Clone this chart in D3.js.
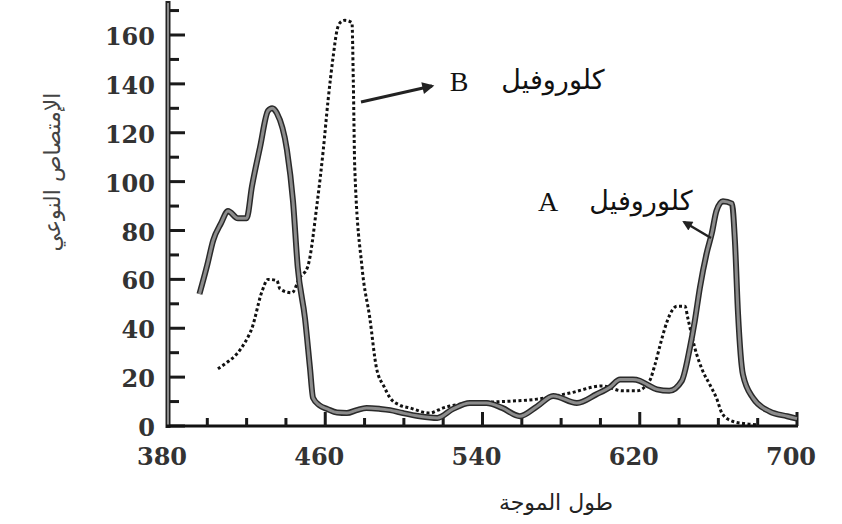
<!DOCTYPE html>
<html>
<head>
<meta charset="utf-8">
<script src="https://cdn.jsdelivr.net/npm/d3@7"></script>
<style>
  body { margin: 0; background: #fff; }
  svg { display: block; }
</style>
</head>
<body>
<div id="chart"></div>
<script>
// wavelength (nm) / absorbance
var waveA = [396, 400, 403, 407, 410.5, 415.6, 420, 422.7, 426.8, 430.9, 433, 435.4, 440.5, 443.6, 446, 449.7, 452.2, 453.8, 457, 461, 466, 471, 476, 481, 488, 493, 499.5, 508, 517, 525, 533.6, 542, 550, 559, 567.7, 576, 588, 598, 605, 610, 616.5, 620, 623.6, 628.7, 635, 641.4, 645.5, 648, 650.6, 654, 656.7, 659, 662.3, 666.9, 668.4, 670, 672.5, 677.6, 686, 695, 700];
var absA  = [54, 66, 76, 83, 88, 85, 85, 98, 114, 129, 130, 128, 113, 92, 65, 44, 24, 11.5, 8.5, 7, 5.5, 5.3, 6.5, 7.4, 7, 6.5, 5.3, 4, 3.3, 7, 9.4, 9.4, 7.4, 4, 8, 12.3, 9.4, 13, 16, 19, 19, 18.5, 17, 15, 14.4, 18.5, 32, 43, 56.6, 70.6, 79, 88, 92, 91, 76, 46, 21, 11.5, 6, 4, 3];

var waveB = [405.4, 410, 415, 419, 422.7, 427.8, 430.9, 435.4, 437, 443, 447, 451, 456, 459, 461.4, 464, 466, 467.5, 470, 473.6, 474.3, 475, 478.7, 482.7, 486, 490, 493, 498, 503, 513, 520, 533.6, 550, 567.7, 584.5, 601, 611, 618.5, 625, 627.7, 631, 634, 639, 643, 644.5, 648, 652, 655.6, 659, 662, 667, 673, 680];
var absB  = [23.4, 26, 29.5, 34, 40, 55, 60, 59.5, 56, 54.5, 60.7, 65, 92, 113, 133, 151, 162, 165, 166, 165, 140, 106, 65, 44, 24, 16, 11.5, 8.5, 7.4, 5.3, 7.4, 9.4, 10, 11, 13.5, 16.4, 14.4, 14.4, 18.5, 25, 35, 43, 49, 49, 44, 32, 22.6, 17, 11.5, 5, 2, 1, 0.5];

var yTicks = [0, 20, 40, 60, 80, 100, 120, 140, 160];
var yMinor = [10, 30, 50, 70, 90, 110, 130, 150, 170];
var xLabels = [380, 460, 540, 620, 700];
var xTicks = [400, 420, 440, 460, 480, 500, 520, 540, 560, 580, 600, 620, 640, 660, 680, 700];

var width = 842, height = 524;
var svg = d3.select('#chart').append('svg')
  .attr('width', width)
  .attr('height', height);

var x = d3.scaleLinear().domain([380, 700]).range([168, 797]);
var y = d3.scaleLinear().domain([0, 160]).range([426, 35]);

var numFont = "'DejaVu Serif', serif";
var arFont = "'DejaVu Sans', sans-serif";

// y axis: thick grey bar with dark edges
svg.append('rect')
  .attr('x', x(380) - 2.5).attr('y', 1)
  .attr('width', 5).attr('height', y(0) + 1)
  .attr('fill', '#222');
svg.append('rect')
  .attr('x', x(380) - 1).attr('y', 3)
  .attr('width', 2).attr('height', y(0) - 4)
  .attr('fill', '#8a8a8a');

// y ticks (inside, to the right)
svg.selectAll('rect.ytick')
  .data(yTicks.concat(yMinor))
  .enter()
  .append('rect')
  .attr('class', 'ytick')
  .attr('x', x(380) + 2)
  .attr('y', function(d){ return y(d) - 1.5; })
  .attr('width', function(d){ return d % 20 === 0 ? 15 : 9; })
  .attr('height', 3)
  .attr('fill', '#1a1a1a');

svg.selectAll('text.ylab')
  .data(yTicks)
  .enter()
  .append('text')
  .attr('class', 'ylab')
  .text(function(d){ return d; })
  .attr('x', 155)
  .attr('y', function(d){ return y(d) + 10; })
  .attr('text-anchor', 'end')
  .attr('font-family', numFont)
  .attr('font-weight', 'bold')
  .attr('font-size', 24)
  .attr('fill', '#333');

// x axis
svg.append('rect')
  .attr('x', x(380) - 2).attr('y', y(0) - 1.5)
  .attr('width', x(700) - x(380) + 3).attr('height', 3)
  .attr('fill', '#111');

svg.selectAll('rect.xtick')
  .data(xTicks)
  .enter()
  .append('rect')
  .attr('class', 'xtick')
  .attr('x', function(d){ return x(d) - 1.5; })
  .attr('y', function(d){ return y(0) - ((d - 380) % 80 === 0 ? 14 : 8); })
  .attr('width', 3)
  .attr('height', function(d){ return (d - 380) % 80 === 0 ? 14 : 8; })
  .attr('fill', '#1a1a1a');

svg.selectAll('text.xlab')
  .data(xLabels)
  .enter()
  .append('text')
  .attr('class', 'xlab')
  .text(function(d){ return d; })
  .attr('x', function(d){ return x(d) - 6; })
  .attr('y', 465)
  .attr('text-anchor', 'middle')
  .attr('font-family', numFont)
  .attr('font-weight', 'bold')
  .attr('font-size', 24)
  .attr('fill', '#333');

// curves
var line = d3.line()
  .x(function(d){ return x(d[0]); })
  .y(function(d){ return y(d[1]); })
  .curve(d3.curveMonotoneX);

var dataA = d3.zip(waveA, absA);
var dataB = d3.zip(waveB, absB);

svg.append('path')
  .attr('d', line(dataB))
  .attr('fill', 'none')
  .attr('stroke', '#111')
  .attr('stroke-width', 3)
  .attr('stroke-dasharray', '3,2.5');

svg.append('path')
  .attr('d', line(dataA))
  .attr('fill', 'none')
  .attr('stroke', '#2a2a2a')
  .attr('stroke-width', 6)
  .attr('stroke-linejoin', 'round');
svg.append('path')
  .attr('d', line(dataA))
  .attr('fill', 'none')
  .attr('stroke', '#8c8c8c')
  .attr('stroke-width', 3)
  .attr('stroke-linejoin', 'round');

// arrows
var defs = svg.append('defs');
defs.append('marker')
  .attr('id', 'head')
  .attr('viewBox', '0 0 10 10')
  .attr('refX', 8).attr('refY', 5)
  .attr('markerWidth', 5).attr('markerHeight', 4)
  .attr('orient', 'auto-start-reverse')
  .append('path')
  .attr('d', 'M0,0L10,5L0,10Z')
  .attr('fill', '#222');

svg.append('line')
  .attr('x1', 361).attr('y1', 102)
  .attr('x2', 432).attr('y2', 86)
  .attr('stroke', '#222').attr('stroke-width', 3)
  .attr('marker-end', 'url(#head)');

svg.append('line')
  .attr('x1', 711).attr('y1', 238)
  .attr('x2', 684).attr('y2', 222)
  .attr('stroke', '#222').attr('stroke-width', 2.5)
  .attr('marker-end', 'url(#head)');

// annotations
svg.append('text').text('B')
  .attr('x', 459).attr('y', 91)
  .attr('text-anchor', 'middle')
  .attr('font-family', "'Liberation Serif', serif")
  .attr('font-size', 28).attr('fill', '#111');
svg.append('text').text('كلوروفيل')
  .attr('x', 553).attr('y', 89)
  .attr('text-anchor', 'middle')
  .attr('font-family', arFont)
  .attr('font-size', 27).attr('fill', '#111');

svg.append('text').text('A')
  .attr('x', 548).attr('y', 211)
  .attr('text-anchor', 'middle')
  .attr('font-family', "'Liberation Serif', serif")
  .attr('font-size', 28).attr('fill', '#111');
svg.append('text').text('كلوروفيل')
  .attr('x', 641).attr('y', 210)
  .attr('text-anchor', 'middle')
  .attr('font-family', arFont)
  .attr('font-size', 27).attr('fill', '#111');

// axis titles
svg.append('text').text('الإمتصاص النوعي')
  .attr('transform', 'translate(60,172) rotate(-90)')
  .attr('text-anchor', 'middle')
  .attr('font-family', arFont)
  .attr('font-size', 22).attr('fill', '#444');

svg.append('text').text('طول الموجة')
  .attr('x', 556).attr('y', 510)
  .attr('text-anchor', 'middle')
  .attr('font-family', arFont)
  .attr('font-size', 22).attr('fill', '#222');
</script>
</body>
</html>
